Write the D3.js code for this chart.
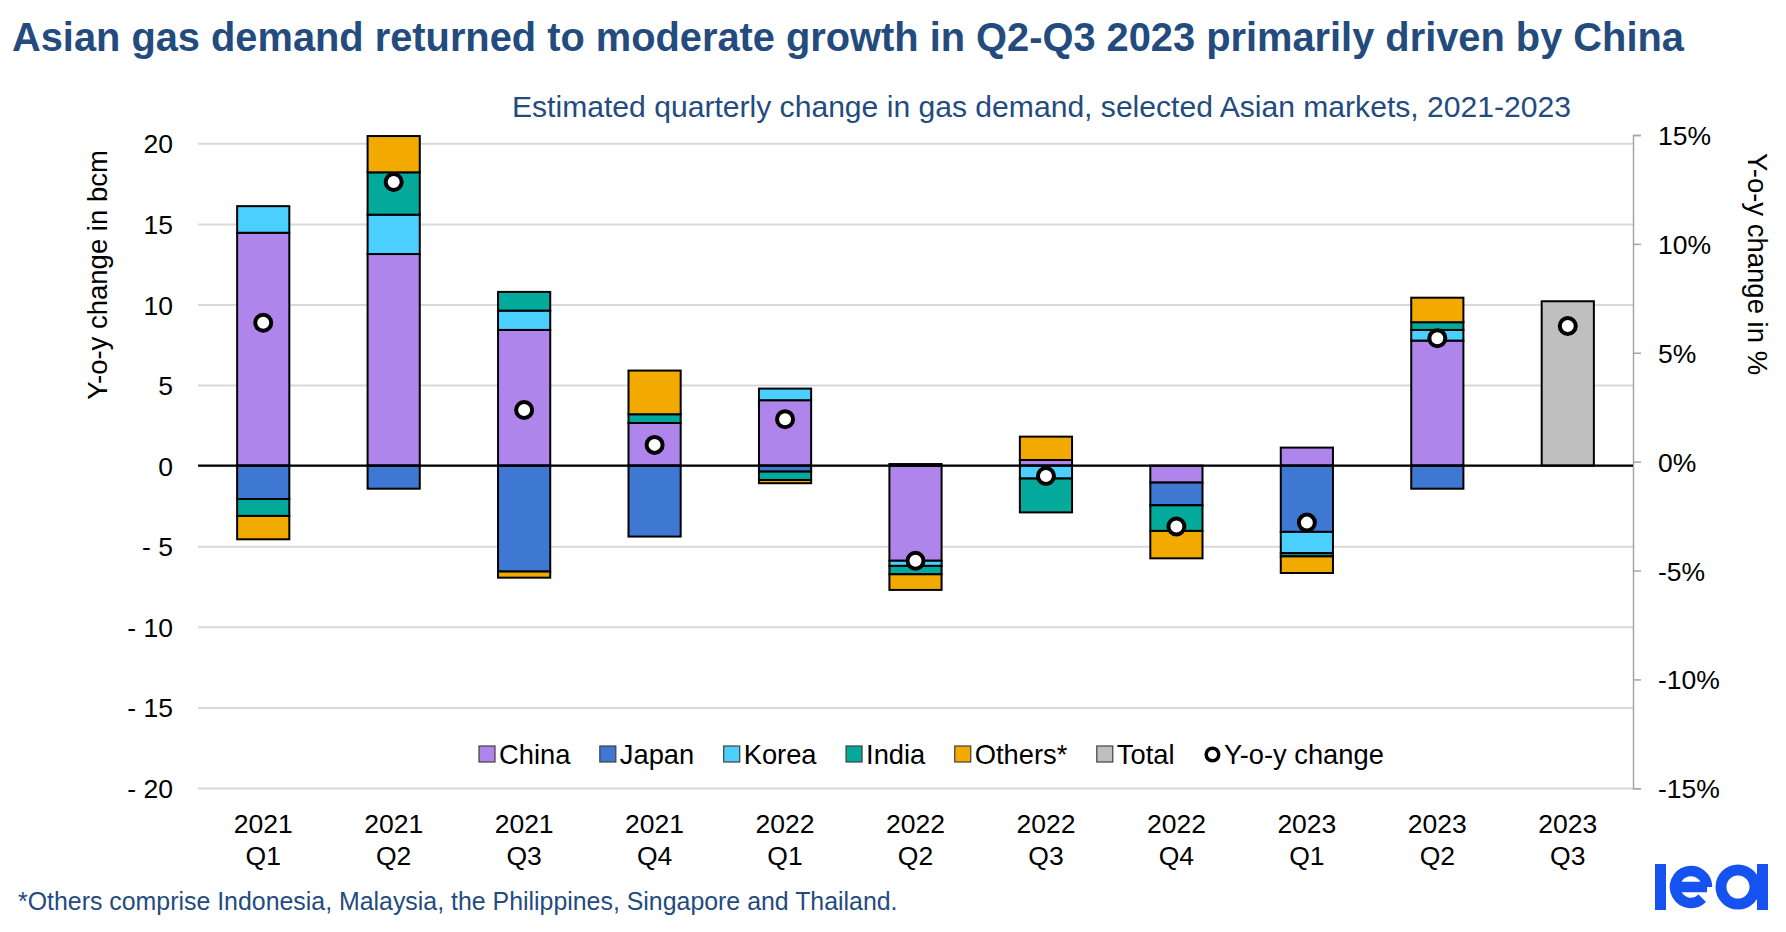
<!DOCTYPE html>
<html>
<head>
<meta charset="utf-8">
<script src="https://cdn.jsdelivr.net/npm/d3@7"></script>
<style>
    body { margin: 0; background: #fff; }
    svg { display: block; font-family: "Liberation Sans", Arial, Helvetica, sans-serif; }
</style>
</head>
<body>
<div id="chart"></div>
<script>
// quarters on the x axis
const quarters = ["2021 Q1", "2021 Q2", "2021 Q3", "2021 Q4", "2022 Q1", "2022 Q2",
                  "2022 Q3", "2022 Q4", "2023 Q1", "2023 Q2", "2023 Q3"];

// y-o-y change in bcm
const china  = [14.45, 13.13,  8.42,  2.65,  4.06, -5.90,  0.35, -1.05,  1.12,  7.76, 0];
const japan  = [-2.07, -1.43, -6.57, -4.40, -0.37,  0.10,  0.00, -1.41, -4.11, -1.43, 0];
const korea  = [ 1.65,  2.44,  1.20,  0.00,  0.72, -0.32, -0.80,  0.00, -1.32,  0.66, 0];
const india  = [-1.05,  2.63,  1.16,  0.54, -0.52, -0.52, -2.10, -1.59, -0.20,  0.48, 0];
const others = [-1.45,  2.25, -0.38,  2.71, -0.20, -0.97,  1.45, -1.70, -1.03,  1.52, 0];
const total  = [0, 0, 0, 0, 0, 0, 0, 0, 0, 0, 10.2];

// y-o-y change in %, right axis
const yoyPct = [6.38, 12.84, 2.37, 0.77, 1.95, -4.55, -0.66, -2.98, -2.80, 5.67, 6.23];

const seriesKeys   = ["china", "japan", "korea", "india", "others", "total"];
const seriesLabels = ["China", "Japan", "Korea", "India", "Others*", "Total"];
const dotLabel = "Y-o-y change";

const leftTicks  = [-20, -15, -10, -5, 0, 5, 10, 15, 20];
const rightTicks = [-15, -10, -5, 0, 5, 10, 15];

const titleText = "Asian gas demand returned to moderate growth in Q2-Q3 2023 primarily driven by China";
const subtitleText = "Estimated quarterly change in gas demand, selected Asian markets, 2021-2023";
const noteText = "*Others comprise Indonesia, Malaysia, the Philippines, Singapore and Thailand.";

const colors = {
    china: "#b085eb", japan: "#3f78d3", korea: "#4acfff",
    india: "#03a99b", others: "#f2aa00", total: "#bfbfbf"
};
const blueText = "#234b7e";

// build rows for the stack
const rows = quarters.map((q, i) => ({
    quarter: q, china: china[i], japan: japan[i], korea: korea[i],
    india: india[i], others: others[i], total: total[i], yoy: yoyPct[i]
}));

const width = 1786, height = 932;
const plot = {left: 198, right: 1633, top: 143.3, bottom: 788};

const svg = d3.select("#chart").append("svg")
    .attr("width", width)
    .attr("height", height);

// titles
svg.append("text")
    .attr("x", 12).attr("y", 51)
    .attr("font-size", 39.8).attr("font-weight", "bold")
    .attr("fill", blueText)
    .text(titleText);

svg.append("text")
    .attr("x", 512).attr("y", 117)
    .attr("font-size", 30.1)
    .attr("fill", blueText)
    .text(subtitleText);

// scales
const x = d3.scaleBand()
    .domain(quarters)
    .range([plot.left, plot.right])
    .paddingInner(0.6)
    .paddingOuter(0.3);

const y = d3.scaleLinear()
    .domain([-20, 20])
    .range([plot.bottom, plot.top]);

const y2 = d3.scaleLinear()
    .domain([-15, 15])
    .range([788.3, 135]);

// left axis with gridlines
const yAxis = d3.axisLeft(y)
    .tickValues(leftTicks)
    .tickSize(-(plot.right - plot.left))
    .tickPadding(25)
    .tickFormat(d => d < 0 ? "- " + Math.abs(d) : d);

svg.append("g")
    .attr("class", "y-axis")
    .attr("transform", "translate(" + plot.left + ",0)")
    .call(yAxis)
    .call(g => g.select(".domain").remove())
    .call(g => g.selectAll(".tick line").attr("stroke", "#d9d9d9").attr("stroke-width", 2))
    .call(g => g.selectAll(".tick text")
        .attr("font-size", 26.5).attr("fill", "#000")
        .attr("font-family", "'Liberation Sans', Arial, sans-serif")
        .attr("dy", "0.36em"));

// right axis
const yAxisRight = d3.axisRight(y2)
    .tickValues(rightTicks)
    .tickSize(8)
    .tickPadding(17)
    .tickFormat(d => d + "%");

svg.append("g")
    .attr("class", "y2-axis")
    .attr("transform", "translate(" + plot.right + ",0)")
    .call(yAxisRight)
    .call(g => g.select(".domain").attr("stroke", "#a6a6a6").attr("stroke-width", 1.5))
    .call(g => g.selectAll(".tick line").attr("stroke", "#a6a6a6").attr("stroke-width", 1.5))
    .call(g => g.selectAll(".tick text")
        .attr("font-size", 26.5).attr("fill", "#000")
        .attr("font-family", "'Liberation Sans', Arial, sans-serif")
        .attr("dy", "0.36em"));

// axis titles
svg.append("text")
    .attr("transform", "translate(107,275) rotate(-90)")
    .attr("text-anchor", "middle")
    .attr("font-size", 27.5)
    .text("Y-o-y change in bcm");

svg.append("text")
    .attr("transform", "translate(1748,264) rotate(90)")
    .attr("text-anchor", "middle")
    .attr("font-size", 27.5)
    .text("Y-o-y change in %");

// stacked bars
const stacked = d3.stack()
    .keys(seriesKeys)
    .offset(d3.stackOffsetDiverging)(rows);

const layers = svg.append("g").attr("class", "bars")
    .selectAll("g")
    .data(stacked)
    .enter().append("g")
    .attr("fill", d => colors[d.key]);

layers.selectAll("rect")
    .data(d => d.filter(s => s[1] - s[0] !== 0))
    .enter().append("rect")
    .attr("x", d => x(d.data.quarter))
    .attr("width", x.bandwidth())
    .attr("y", d => y(d[1]))
    .attr("height", d => y(d[0]) - y(d[1]))
    .attr("stroke", "#000")
    .attr("stroke-width", 2);

// zero line
svg.append("line")
    .attr("x1", plot.left).attr("x2", plot.right)
    .attr("y1", y(0)).attr("y2", y(0))
    .attr("stroke", "#000").attr("stroke-width", 2.2);

// y-o-y dots on the right axis
svg.append("g").attr("class", "dots")
    .selectAll("circle")
    .data(rows)
    .enter().append("circle")
    .attr("cx", d => x(d.quarter) + x.bandwidth() / 2)
    .attr("cy", d => y2(d.yoy))
    .attr("r", 8)
    .attr("fill", "#fff")
    .attr("stroke", "#000")
    .attr("stroke-width", 4);

// x labels, two lines
const xLabels = svg.append("g").attr("class", "x-labels")
    .selectAll("text")
    .data(quarters)
    .enter().append("text")
    .attr("text-anchor", "middle")
    .attr("font-size", 26.5)
    .attr("y", 833);

xLabels.append("tspan")
    .attr("x", d => x(d) + x.bandwidth() / 2)
    .text(d => d.split(" ")[0]);

xLabels.append("tspan")
    .attr("x", d => x(d) + x.bandwidth() / 2)
    .attr("dy", 32)
    .text(d => d.split(" ")[1]);

// legend
const legendItems = seriesKeys.map((k, i) => ({key: k, label: seriesLabels[i], dot: false}))
    .concat([{key: "yoy", label: dotLabel, dot: true}]);

const legend = svg.append("g").attr("class", "legend");
const legendY = 764;
let lx = 479;
legendItems.forEach(item => {
    const g = legend.append("g");
    if (item.dot) {
        g.append("circle")
            .attr("cx", lx + 8.5).attr("cy", legendY - 9.5)
            .attr("r", 6.3)
            .attr("fill", "#fff").attr("stroke", "#000").attr("stroke-width", 3.5);
    } else {
        g.append("rect")
            .attr("x", lx).attr("y", legendY - 18)
            .attr("width", 16).attr("height", 16)
            .attr("fill", colors[item.key])
            .attr("stroke", "#404040").attr("stroke-width", 1.2);
    }
    const t = g.append("text")
        .attr("x", lx + 20).attr("y", legendY)
        .attr("font-size", 27.3)
        .text(item.label);
    lx += 20 + t.node().getComputedTextLength() + 29.5;
});

// footnote
svg.append("text")
    .attr("x", 18).attr("y", 910)
    .attr("font-size", 24.9)
    .attr("fill", blueText)
    .text(noteText);

// iea logo
const logo = svg.append("g").attr("class", "logo");
const logoBlue = "#1652f0";
logo.append("rect")
    .attr("x", 1655).attr("y", 864).attr("width", 11).attr("height", 46)
    .attr("fill", logoBlue);
logo.append("path")
    .attr("d", "M1675,887 H1707 M1707,887 A16,16 0 1 0 1702.3,898.3")
    .attr("fill", "none").attr("stroke", logoBlue).attr("stroke-width", 10.5);
logo.append("circle")
    .attr("cx", 1738).attr("cy", 887).attr("r", 17)
    .attr("fill", "none").attr("stroke", logoBlue).attr("stroke-width", 11);
logo.append("rect")
    .attr("x", 1757).attr("y", 864).attr("width", 11).attr("height", 46)
    .attr("fill", logoBlue);
</script>
</body>
</html>
